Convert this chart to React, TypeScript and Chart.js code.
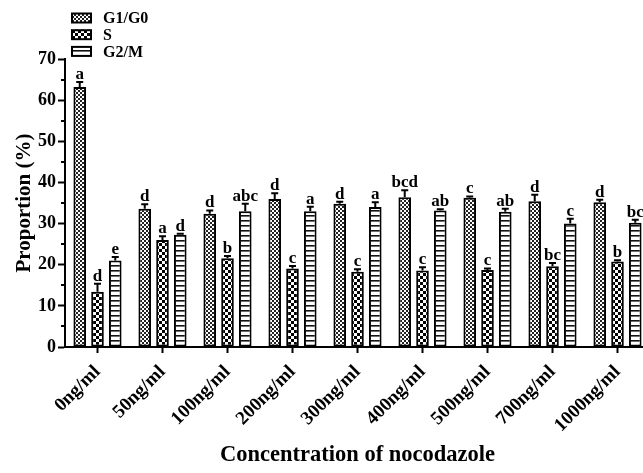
import React, { useEffect, useRef } from 'react';
import { Chart, registerables } from 'chart.js';

Chart.register(...registerables);

const categories = ['0ng/ml', '50ng/ml', '100ng/ml', '200ng/ml', '300ng/ml', '400ng/ml', '500ng/ml', '700ng/ml', '1000ng/ml'];

const g1Values = [63.2, 33.6, 32.4, 36.0, 34.8, 36.4, 36.3, 35.4, 35.2];
const g1Errors = [1.2, 1.1, 0.8, 1.4, 0.5, 1.7, 0.3, 1.6, 0.6];
const g1Letters = ['a', 'd', 'd', 'd', 'd', 'bcd', 'c', 'd', 'd'];

const sValues = [13.4, 26.0, 21.6, 19.1, 18.3, 18.6, 18.7, 19.6, 20.8];
const sErrors = [2.0, 0.9, 0.5, 0.6, 0.6, 0.8, 0.4, 0.8, 0.3];
const sLetters = ['d', 'a', 'b', 'c', 'c', 'c', 'c', 'bc', 'b'];

const g2Values = [21.0, 27.3, 33.0, 33.0, 34.0, 33.2, 32.9, 30.0, 30.2];
const g2Errors = [0.9, 0.2, 1.8, 1.1, 1.2, 0.3, 0.7, 1.2, 0.7];
const g2Letters = ['e', 'd', 'abc', 'a', 'a', 'ab', 'ab', 'c', 'bc'];

const seriesNames = ['G1/G0', 'S', 'G2/M'];
const yTicks = [0, 10, 20, 30, 40, 50, 60, 70];

const FONT = "'Liberation Serif', 'Times New Roman', serif";

function makePattern(kind: string): CanvasPattern {
  const c = document.createElement('canvas');
  const ctx = c.getContext('2d')!;
  if (kind === 'fine') {
    c.width = 4; c.height = 4;
    ctx.fillStyle = '#fff'; ctx.fillRect(0, 0, 4, 4);
    ctx.fillStyle = '#222';
    ctx.fillRect(0, 0, 2, 2); ctx.fillRect(2, 2, 2, 2);
  } else if (kind === 'coarse') {
    c.width = 6; c.height = 6;
    ctx.fillStyle = '#fff'; ctx.fillRect(0, 0, 6, 6);
    ctx.fillStyle = '#000';
    ctx.fillRect(0, 0, 3, 3); ctx.fillRect(3, 3, 3, 3);
  } else {
    c.width = 4; c.height = 5;
    ctx.fillStyle = '#fff'; ctx.fillRect(0, 0, 4, 5);
    ctx.fillStyle = '#111';
    ctx.fillRect(0, 0, 4, 1.6);
  }
  return ctx.createPattern(c, 'repeat')!;
}

export default function App() {
  const ref = useRef<HTMLCanvasElement | null>(null);

  useEffect(() => {
    const canvas = ref.current!;
    const patterns = [makePattern('fine'), makePattern('coarse'), makePattern('lines')];
    const values = [g1Values, sValues, g2Values];
    const errors = [g1Errors, sErrors, g2Errors];
    const letters = [g1Letters, sLetters, g2Letters];

    const annot = {
      id: 'annot',
      afterDatasetsDraw(chart: any) {
        const ctx: CanvasRenderingContext2D = chart.ctx;
        const y = chart.scales.y;
        const area = chart.chartArea;
        ctx.save();
        for (let d = 0; d < 3; d++) {
          const meta = chart.getDatasetMeta(d);
          meta.data.forEach((bar: any, i: number) => {
            const x = bar.x;
            const yBar = y.getPixelForValue(values[d][i]);
            const yTop = y.getPixelForValue(values[d][i] + errors[d][i]);
            ctx.strokeStyle = '#000';
            ctx.lineWidth = 2;
            ctx.beginPath();
            ctx.moveTo(x, yBar);
            ctx.lineTo(x, yTop);
            ctx.moveTo(x - 3.5, yTop);
            ctx.lineTo(x + 3.5, yTop);
            ctx.stroke();
            ctx.fillStyle = '#000';
            ctx.font = `bold 17px ${FONT}`;
            ctx.textAlign = 'center';
            ctx.textBaseline = 'alphabetic';
            ctx.fillText(letters[d][i], x, yTop - 3);
          });
        }
        ctx.strokeStyle = '#000';
        ctx.lineWidth = 2;
        for (let v = 5; v < 70; v += 10) {
          const py = Math.round(y.getPixelForValue(v));
          ctx.beginPath();
          ctx.moveTo(area.left - 4, py);
          ctx.lineTo(area.left, py);
          ctx.stroke();
        }
        for (let d = 0; d < 3; d++) {
          const cy = 18 + d * 16.7;
          ctx.fillStyle = patterns[d];
          ctx.fillRect(71, cy - 5, 21, 10);
          ctx.strokeStyle = '#000';
          ctx.lineWidth = 2;
          ctx.strokeRect(72, cy - 4.5, 19, 9);
          ctx.fillStyle = '#000';
          ctx.font = `bold 16px ${FONT}`;
          ctx.textAlign = 'left';
          ctx.textBaseline = 'middle';
          ctx.fillText(seriesNames[d], 103, cy + 1);
        }
        ctx.restore();
      },
    };

    const chart = new Chart(canvas, {
      type: 'bar',
      data: {
        labels: categories,
        datasets: [0, 1, 2].map((d) => ({
          label: seriesNames[d],
          data: values[d],
          backgroundColor: patterns[d] as any,
          borderColor: '#000',
          borderWidth: 2,
          borderSkipped: false,
          categoryPercentage: 0.82,
          barPercentage: 0.71,
        })),
      },
      options: {
        responsive: false,
        animation: false,
        layout: { padding: { top: 59, right: 10, left: 0, bottom: 0 } },
        plugins: { legend: { display: false }, tooltip: { enabled: false } },
        scales: {
          x: {
            afterFit: (s: any) => { s.height = 126; },
            grid: { drawOnChartArea: false, offset: false, tickLength: 6, tickWidth: 2, tickColor: '#000' },
            border: { color: '#000', width: 2 },
            ticks: {
              color: '#000',
              font: { family: FONT, size: 19, weight: 'bold' },
              minRotation: 45,
              maxRotation: 45,
              padding: 8,
              autoSkip: false,
            },
            title: {
              display: true,
              text: 'Concentration of nocodazole',
              color: '#000',
              font: { family: FONT, size: 22.5, weight: 'bold' },
              padding: { top: 0, bottom: 4 },
            },
          },
          y: {
            min: 0,
            max: 70,
            afterFit: (s: any) => { s.width = 65; },
            afterBuildTicks: (s: any) => { s.ticks = yTicks.map((v) => ({ value: v })); },
            grid: { drawOnChartArea: false, tickLength: 7, tickWidth: 2, tickColor: '#000' },
            border: { color: '#000', width: 2 },
            ticks: {
              color: '#000',
              font: { family: FONT, size: 18, weight: 'bold' },
              padding: 2,
            },
            title: {
              display: true,
              text: 'Proportion (%)',
              color: '#000',
              font: { family: FONT, size: 21, weight: 'bold' },
              padding: { top: 12, bottom: 0 },
            },
          },
        },
      },
      plugins: [annot],
    });
    return () => chart.destroy();
  }, []);

  return (
    <div style={{ position: 'fixed', left: 0, top: 0, width: 643, height: 473, overflow: 'hidden', background: '#fff' }}>
      <canvas ref={ref} width={660} height={473} style={{ width: 660, height: 473, display: 'block' }} />
    </div>
  );
}
